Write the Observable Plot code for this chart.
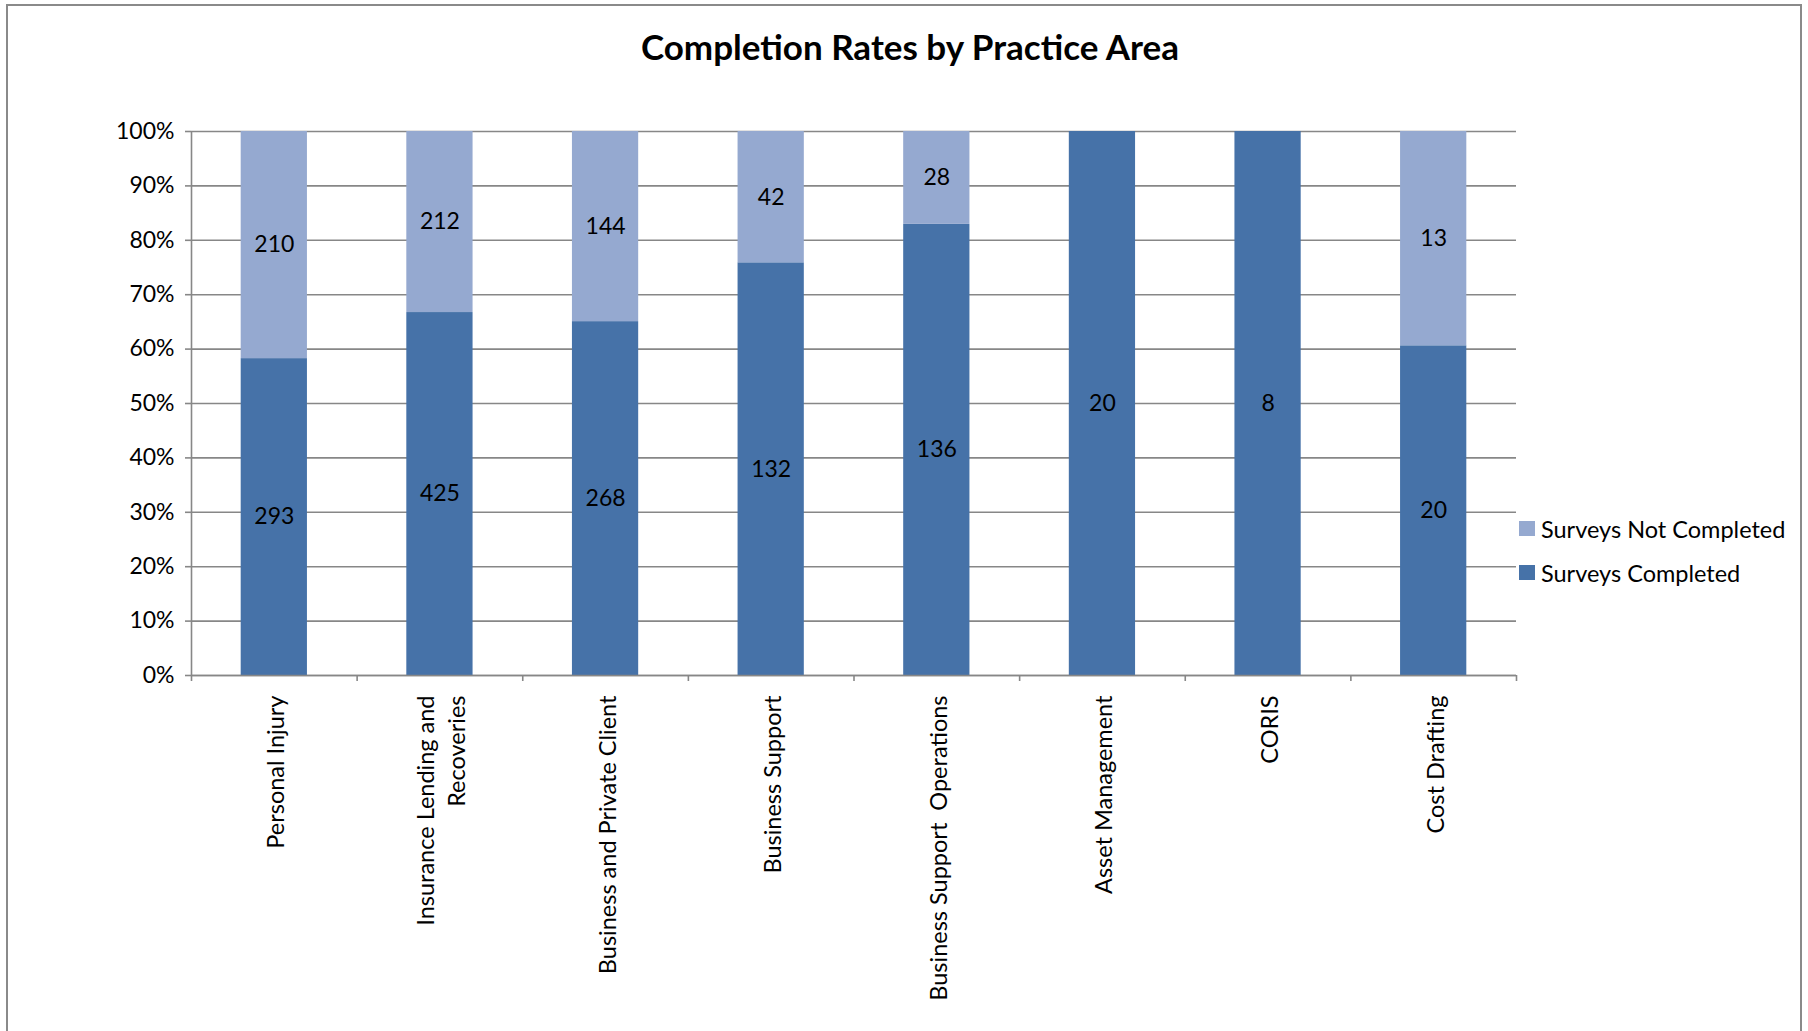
<!DOCTYPE html>
<html>
<head>
<meta charset="utf-8">
<script src="https://cdn.jsdelivr.net/npm/d3@7"></script>
<script src="https://cdn.jsdelivr.net/npm/@observablehq/plot@0.6"></script>
<style>
  html, body { margin: 0; padding: 0; background: #fff; overflow: hidden; }
  #wrap { position: relative; width: 1808px; height: 1031px; font-family: Lato, "Open Sans", sans-serif; }
  #frame { position: absolute; left: 6px; top: 4px; width: 1796px; height: 1100px; border: 2px solid #8a8a8a; box-sizing: border-box; }
  #title { position: absolute; left: 0; top: 25px; width: 1820px; text-align: center; font-weight: bold; font-size: 35px; line-height: 42px; color: #000; }
  #chart { position: absolute; left: 0; top: 0; }
  .leg { position: absolute; left: 1519px; font-size: 23.5px; line-height: 28px; color: #000; white-space: nowrap; }
  .leg span.sw { position: absolute; left: 0; top: 6px; width: 16px; height: 15px; }
  .leg span.tx { position: absolute; left: 22px; top: 0; }
</style>
</head>
<body>
<div id="wrap">
  <div id="frame"></div>
  <div id="title">Completion Rates by Practice Area</div>
  <div id="chart"></div>
  <div id="legend"></div>
</div>
<script>
const categories = [
  "Personal Injury",
  "Insurance Lending and\nRecoveries",
  "Business and Private Client",
  "Business Support",
  "Business Support  Operations",
  "Asset Management",
  "CORIS",
  "Cost Drafting"
];
const completed    = [293, 425, 268, 132, 136, 20, 8, 20];
const notCompleted = [210, 212, 144, 42, 28, 0, 0, 13];
const seriesNames  = ["Surveys Completed", "Surveys Not Completed"];
const seriesColors = ["#4672A8", "#95A9D0"];
const yTicks       = [0, 0.1, 0.2, 0.3, 0.4, 0.5, 0.6, 0.7, 0.8, 0.9, 1];

// build normalized stacks
const rows = [];
categories.forEach((c, i) => {
  const vals = [completed[i], notCompleted[i]];
  const total = d3.sum(vals);
  let acc = 0;
  vals.forEach((v, k) => {
    rows.push({i, category: c, series: seriesNames[k], value: v, y1: acc / total, y2: (acc + v) / total});
    acc += v;
  });
});

const grey = "#878787";
const chart = Plot.plot({
  width: 1808,
  height: 1031,
  marginLeft: 191,
  marginRight: 292,
  marginTop: 131,
  marginBottom: 356,
  style: {fontFamily: "Lato, 'Open Sans', sans-serif", fontSize: "23px", color: "#000", background: "transparent"},
  x: {domain: [0, categories.length], axis: null},
  y: {domain: [0, 1], axis: null},
  color: {domain: seriesNames, range: seriesColors},
  marks: [
    Plot.gridY(yTicks, {stroke: grey, strokeOpacity: 1, strokeWidth: 1.6}),
    Plot.rectY(rows, {x1: d => d.i + 0.3, x2: d => d.i + 0.7, y1: "y1", y2: "y2", fill: "series"}),
    Plot.ruleX([0], {stroke: grey, strokeWidth: 1.6}),
    Plot.ruleY([0], {stroke: grey, strokeWidth: 1.6}),
    Plot.axisY({ticks: yTicks, tickFormat: d3.format(".0%"), tickSize: 6, tickPadding: 11, stroke: grey, strokeOpacity: 1, strokeWidth: 1.6, fill: "#000", label: null, fontSize: 23}),
    Plot.axisX({ticks: d3.range(categories.length + 1), tickFormat: () => "", tickSize: 6, stroke: grey, strokeOpacity: 1, strokeWidth: 1.6, label: null}),
    Plot.text(rows.filter(d => d.value > 0), {x: d => d.i + 0.5, y: d => (d.y1 + d.y2) / 2, text: d => String(d.value), fill: "#000", fontSize: 23}),
    Plot.text(categories, {x: (d, i) => i + 0.5, frameAnchor: "bottom", dy: 20, rotate: -90, textAnchor: "end", lineAnchor: "middle", lineHeight: 1.32, text: d => d, fill: "#000", fontSize: 23.5})
  ]
});
document.getElementById("chart").appendChild(chart);

// legend (top entry first, as in the reference)
const legend = document.getElementById("legend");
const legendTops = {"Surveys Not Completed": 515, "Surveys Completed": 559};
["Surveys Not Completed", "Surveys Completed"].forEach(name => {
  const el = document.createElement("div");
  el.className = "leg";
  el.style.top = legendTops[name] + "px";
  const sw = document.createElement("span");
  sw.className = "sw";
  sw.style.background = seriesColors[seriesNames.indexOf(name)];
  const tx = document.createElement("span");
  tx.className = "tx";
  tx.textContent = name;
  el.appendChild(sw); el.appendChild(tx);
  legend.appendChild(el);
});
</script>
</body>
</html>
